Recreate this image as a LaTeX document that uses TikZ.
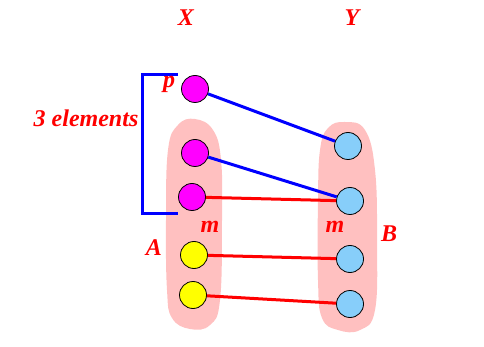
\documentclass[tikz,border=0pt]{standalone}
\usepackage{fontspec}
\setmainfont{Liberation Serif}
\usetikzlibrary{positioning}
\definecolor{blobc}{RGB}{255,192,192}
\definecolor{magc}{RGB}{255,0,255}
\definecolor{yelc}{RGB}{255,255,0}
\definecolor{skyc}{RGB}{135,206,250}
\definecolor{redc}{RGB}{255,0,0}
\definecolor{bluec}{RGB}{0,0,255}
\tikzset{
  elem/.style  = {circle, draw=black, line width=0.8pt, minimum size=27pt, inner sep=0pt},
  blob/.style  = {fill=blobc, draw=none},
  bluel/.style = {draw=bluec, line width=3pt},
  redl/.style  = {draw=redc, line width=3pt},
  lbl/.style   = {text=redc, font=\fontsize{24}{28}\selectfont\bfseries\itshape, inner sep=0pt},
}

\begin{document}
\begin{tikzpicture}[x=1pt, y=-1pt]
\useasboundingbox (0,0) rectangle (484,347);

% --- the two sets A and B -----------------------------------------------
\fill[blob] plot[smooth cycle, tension=0.7] coordinates
  {(195,119) (213,130) (221,160) (222,220) (220,300) (210,325) (190,329)
   (172,318) (167,290) (166,220) (168,150) (178,125)};
\fill[blob] plot[smooth cycle, tension=0.7] coordinates
  {(345,122) (365,130) (375,170) (377,240) (375,310) (360,330) (338,330)
   (322,318) (318,280) (318,200) (320,150) (328,128)};

% --- elements of X ------------------------------------------------------
\node[elem, fill=magc] (p)  at (195,89)  {};
\node[elem, fill=magc] (a2) at (195,153) {};
\node[elem, fill=magc] (a3) at (192,197) {};
\node[elem, fill=yelc] (a4) at (194,255) {};
\node[elem, fill=yelc] (a5) at (193,295) {};

% --- elements of Y ------------------------------------------------------
\node[elem, fill=skyc] (b1) at (348,146) {};
\node[elem, fill=skyc] (b2) at (350,201) {};
\node[elem, fill=skyc] (b3) at (350,259) {};
\node[elem, fill=skyc] (b4) at (350,304) {};

% --- the map ------------------------------------------------------------
\draw[bluel] (p) -- (b1);
\draw[bluel] (a2) -- (b2);
\draw[redl] (a3) -- (b2);
\draw[redl] (a4) -- (b3);
\draw[redl] (a5) -- (b4);

% --- bracket and labels -------------------------------------------------
\draw[bluel] (178,75) -- (142,75) -- (142,214) -- (178,214);
\node[lbl] (lx) at (186,18) {X};
\node[lbl] (ly) at (352,18) {Y};
\node[lbl] (three) at (86,118) {3 elements};
\node[lbl] (lp) at (169,84) {p};
\node[lbl] (ma) at (210,227) {m};
\node[lbl] (mb) at (335,227) {m};
\node[lbl] (la) at (154,248) {A};
\node[lbl] (lb) at (389,234) {B};

\end{tikzpicture}
\end{document}
